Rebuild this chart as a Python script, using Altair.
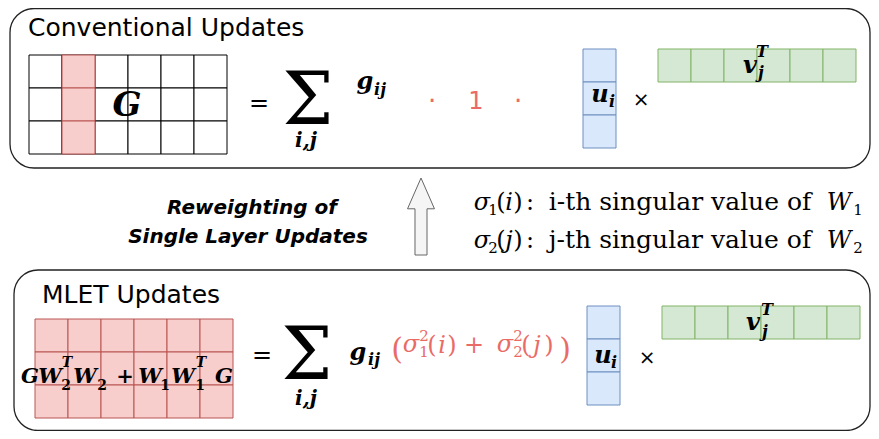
import altair as alt
import pandas as pd

# ---------------- content ----------------
TITLES = ["Conventional Updates", "MLET Updates"]
TITLE_X = [28, 42]
TITLE_Y = [36, 303]

REWEIGHT = ["Reweighting of", "Single Layer Updates"]
REWEIGHT_X = [252, 248]
REWEIGHT_Y = [214, 243]

SIGMA_INDEX = ["1", "2"]
SIGMA_ARG = ["i", "j"]
SIGMA_TEXT = ["i-th singular value of", "j-th singular value of"]
SIGMA_Y = [210, 248]

# rounded boxes: (x, x2, y, y2)
BOX_X = [10, 14]
BOX_X2 = [870, 870]
BOX_Y = [8.5, 270]
BOX_Y2 = [168, 430.5]

# matrices / vectors: (x0, y0, cols, rows, fill, stroke)
CELL = 33
PINK, PINK_S = "#f8cecc", "#b85450"
BLUE, BLUE_S = "#dae8fc", "#6c8ebf"
GREEN, GREEN_S = "#d5e8d4", "#82b366"
RED_TXT = "#ea6b66"

GRIDS = [
    (29, 55, 6, 3, "#ffffff", "#000000"),   # G (conventional)
    (35, 319, 6, 3, PINK, PINK_S),          # MLET matrix
    (583, 49, 1, 3, BLUE, BLUE_S),          # u_i top
    (658, 49, 6, 1, GREEN, GREEN_S),        # v_j^T top
    (587, 306, 1, 3, BLUE, BLUE_S),         # u_i bottom
    (662, 306, 6, 1, GREEN, GREEN_S),       # v_j^T bottom
]
HIGHLIGHT_COL = 1  # highlighted column of G

# ---------------- build tables ----------------
cells = []
for x0, y0, cols, rows, fill, stroke in GRIDS:
    for c in range(cols):
        for r in range(rows):
            cells.append(dict(x=x0 + c * CELL, x2=x0 + (c + 1) * CELL,
                              y=y0 + r * CELL, y2=y0 + (r + 1) * CELL,
                              fill=fill, stroke=stroke, o=0))
x0, y0 = GRIDS[0][0], GRIDS[0][1]
for r in range(3):
    cells.append(dict(x=x0 + HIGHLIGHT_COL * CELL, x2=x0 + (HIGHLIGHT_COL + 1) * CELL,
                      y=y0 + r * CELL, y2=y0 + (r + 1) * CELL,
                      fill=PINK, stroke=PINK_S, o=1))
cells_df = pd.DataFrame(cells)

boxes_df = pd.DataFrame(dict(x=BOX_X, x2=BOX_X2, y=BOX_Y, y2=BOX_Y2))

K = "#000000"
# text pieces: (text, x, y(baseline), size, color)
sans_rows = [
    ("·", 432, 110, 26, RED_TXT), ("1", 476, 109, 24, RED_TXT), ("·", 518, 110, 26, RED_TXT),
    ("×", 641, 106, 20, K), ("×", 647, 364, 20, K),
]
title_rows = [(t, x, y, 25, K) for t, x, y in zip(TITLES, TITLE_X, TITLE_Y)]
reweight_rows = [(t, x, y, 20, K) for t, x, y in zip(REWEIGHT, REWEIGHT_X, REWEIGHT_Y)]

serif_rows = [
    ("=", 259, 111, 24, K), ("Σ", 308, 124, 72, K),
    ("=", 262, 363, 24, K), ("Σ", 307, 379, 72, K),
    # red reweighting factor
    ("(", 397, 359, 30, RED_TXT), ("2", 424, 341, 15, RED_TXT), ("1", 424, 357, 15, RED_TXT),
    ("(", 432, 353, 24, RED_TXT), (")", 452, 353, 24, RED_TXT),
    ("+", 474, 353, 24, RED_TXT),
    ("2", 518, 341, 15, RED_TXT), ("2", 518, 357, 15, RED_TXT),
    ("(", 526, 353, 24, RED_TXT), (")", 549, 353, 24, RED_TXT),
    (")", 565, 359, 30, RED_TXT),
]
serif_italic_rows = [
    ("σ", 411, 352, 24, RED_TXT), ("i", 442, 353, 24, RED_TXT),
    ("σ", 505, 352, 24, RED_TXT), ("j", 537, 353, 24, RED_TXT),
]
for k in range(2):
    yb = SIGMA_Y[k]
    serif_rows += [(SIGMA_INDEX[k], 493, yb + 5, 15, K), ("(", 501, yb, 24, K), (")", 518, yb, 24, K),
                   (":", 530, yb, 24, K), (SIGMA_TEXT[k], 680, yb, 25, K),
                   (SIGMA_INDEX[k], 858, yb + 5, 15, K)]
    serif_italic_rows += [("σ", 482, yb, 24, K), (SIGMA_ARG[k], 509, yb, 24, K), ("W", 839, yb, 24, K)]

bold_italic_rows = [
    ("G", 127, 116, 34, K),
    ("i,j", 306, 147, 20, K), ("g", 365, 89, 24, K), ("ij", 380, 95, 16, K),
    ("u", 600, 102, 24, K), ("i", 612, 107, 16, K),
    ("v", 750, 73, 24, K), ("T", 762, 57, 16, K), ("j", 761, 78, 16, K),
    ("i,j", 306, 405, 20, K), ("g", 358, 360, 24, K), ("ij", 374, 365, 16, K),
    ("u", 603, 363, 24, K), ("i", 614, 368, 16, K),
    ("v", 753, 330, 24, K), ("T", 767, 315, 16, K), ("j", 765, 337, 16, K),
    # G W2^T W2 + W1 W1^T G
    ("G", 30, 383, 21, K), ("W", 50, 383, 21, K), ("T", 67, 367, 14, K),
    ("W", 85, 383, 21, K), ("W", 150, 383, 21, K), ("W", 183, 383, 21, K),
    ("T", 201, 367, 14, K), ("G", 224, 383, 21, K),
]
bold_rows = [
    ("2", 66, 390, 14, K), ("2", 102, 390, 14, K), ("+", 125, 383, 21, K),
    ("1", 165, 390, 14, K), ("1", 200, 390, 14, K),
]

def tdf(rows):
    return pd.DataFrame(rows, columns=["text", "x", "y", "size", "color"])

W, H = 863, 423
xs = alt.Scale(domain=[8, 871], nice=False, zero=False)
ys = alt.Scale(domain=[8, 431], nice=False, zero=False, reverse=True)
X = alt.X("x:Q", scale=xs, axis=None)
Y = alt.Y("y:Q", scale=ys, axis=None)

boxes = alt.Chart(boxes_df).mark_rect(
    cornerRadius=24, fillOpacity=0, stroke="#222222", strokeWidth=1.3
).encode(x=X, x2="x2:Q", y=Y, y2="y2:Q")

grid = alt.Chart(cells_df).mark_rect(strokeWidth=1).encode(
    x=X, x2="x2:Q", y=Y, y2="y2:Q",
    fill=alt.Fill("fill:N", scale=None),
    stroke=alt.Stroke("stroke:N", scale=None),
    order="o:Q",
)

ARROW = "M0,-1 L0.35,-0.2 L0.156,-0.2 L0.156,1 L-0.156,1 L-0.156,-0.2 L-0.35,-0.2 Z"
arrow_df = pd.DataFrame(dict(x=[421], y=[216.5]))
arrow = alt.Chart(arrow_df).mark_point(
    shape=ARROW, size=5929, filled=True, fill="#f5f5f5", stroke="#666666",
    strokeWidth=1, opacity=1
).encode(x=X, y=Y)

def text_layer(rows, align="center", **kw):
    return alt.Chart(tdf(rows)).mark_text(align=align, baseline="alphabetic", **kw).encode(
        x=X, y=Y, text="text:N",
        size=alt.Size("size:Q", scale=None),
        color=alt.Color("color:N", scale=None),
    )

layers = [
    boxes, grid, arrow,
    text_layer(title_rows, align="left", font="DejaVu Sans"),
    text_layer(sans_rows, font="DejaVu Sans"),
    text_layer(reweight_rows, font="DejaVu Sans", fontStyle="italic", fontWeight="bold"),
    text_layer(serif_rows, font="DejaVu Serif"),
    text_layer(serif_italic_rows, font="DejaVu Serif", fontStyle="italic"),
    text_layer(bold_italic_rows, font="DejaVu Serif", fontStyle="italic", fontWeight="bold"),
    text_layer(bold_rows, font="DejaVu Serif", fontWeight="bold"),
]

chart = alt.layer(*layers).properties(
    width=W, height=H, padding=0, autosize=alt.AutoSizeParams(type="none")
).configure_view(stroke=None)

chart.save("out.html", embed_options={"renderer": "svg", "actions": False})
